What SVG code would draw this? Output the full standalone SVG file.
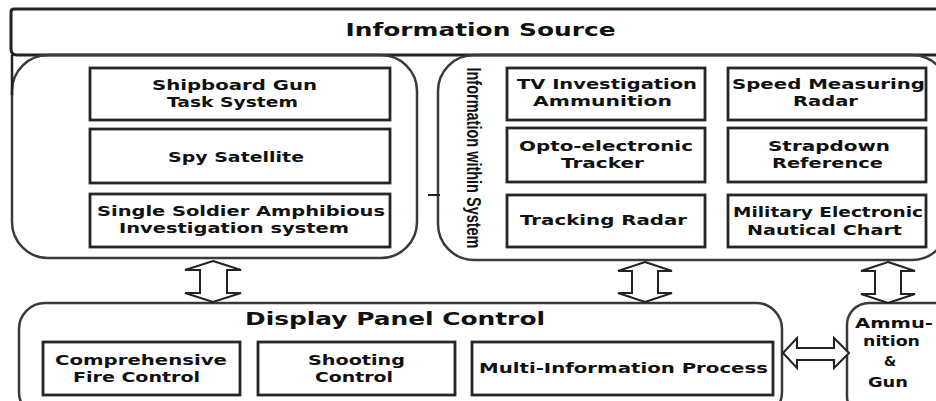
<svg xmlns="http://www.w3.org/2000/svg" width="936" height="401" viewBox="0 0 936 401">
<style>
.panel{fill:none;stroke:#3a3a3a;stroke-width:2.5}
.box{fill:#fff;stroke:#262626;stroke-width:2.8}
.t{font-family:"DejaVu Sans","Verdana",sans-serif;font-weight:bold;font-size:14px;fill:#111;text-anchor:middle}
.title{font-size:18px}
.sub{font-size:17px}
.vt{font-family:"Liberation Sans","Arial",sans-serif;font-weight:bold;font-size:20px;fill:#111;text-anchor:middle}
.arrow{fill:#fff;stroke:#222;stroke-width:2;stroke-linejoin:miter}
</style>
<rect width="936" height="401" fill="#fff"/>
<g id="information-source">
<path class="panel" d="M950 9 H14 Q11 9 11 12 V49 Q11 55 17 55 H950" style="stroke:#222;stroke-width:3"/>
<text class="t title" x="480.5" y="36" textLength="270" lengthAdjust="spacingAndGlyphs">Information Source</text>
</g>
<g id="external-panel">
<rect class="panel" x="12" y="55" width="405" height="203" rx="36" ry="36"/>
<line x1="12" y1="55" x2="12" y2="95" stroke="#222" stroke-width="2.5"/>
</g>
<g id="internal-panel">
<rect class="panel" x="438" y="55" width="510" height="205" rx="36" ry="36"/>
<text class="vt" transform="translate(467,158) rotate(90)" textLength="181" lengthAdjust="spacingAndGlyphs">Information within System</text>
</g>
<g id="shipboard-gun">
<rect class="box" x="90" y="68" width="300" height="52"/>
<text class="t" x="234.5" y="90" textLength="165" lengthAdjust="spacingAndGlyphs">Shipboard Gun</text>
<text class="t" x="232.5" y="107" textLength="131" lengthAdjust="spacingAndGlyphs">Task System</text>
</g>
<g id="spy-satellite">
<rect class="box" x="90" y="129" width="300" height="54"/>
<text class="t" x="236" y="162" textLength="136" lengthAdjust="spacingAndGlyphs">Spy Satellite</text>
</g>
<g id="single-soldier">
<rect class="box" x="90" y="194" width="300" height="53"/>
<text class="t" x="241" y="216" textLength="288" lengthAdjust="spacingAndGlyphs">Single Soldier Amphibious</text>
<text class="t" x="234" y="233" textLength="230" lengthAdjust="spacingAndGlyphs">Investigation system</text>
</g>
<g id="tv-investigation">
<rect class="box" x="507" y="68" width="198" height="52"/>
<text class="t" x="607" y="89" textLength="180" lengthAdjust="spacingAndGlyphs">TV Investigation</text>
<text class="t" x="602.5" y="106" textLength="139" lengthAdjust="spacingAndGlyphs">Ammunition</text>
</g>
<g id="speed-radar">
<rect class="box" x="728" y="68" width="198" height="52"/>
<text class="t" x="828.5" y="89" textLength="193" lengthAdjust="spacingAndGlyphs">Speed Measuring</text>
<text class="t" x="825.5" y="106" textLength="65" lengthAdjust="spacingAndGlyphs">Radar</text>
</g>
<g id="opto-tracker">
<rect class="box" x="507" y="128" width="198" height="54"/>
<text class="t" x="606" y="151" textLength="174" lengthAdjust="spacingAndGlyphs">Opto-electronic</text>
<text class="t" x="602.5" y="168" textLength="83" lengthAdjust="spacingAndGlyphs">Tracker</text>
</g>
<g id="strapdown">
<rect class="box" x="728" y="128" width="198" height="54"/>
<text class="t" x="829" y="151" textLength="122" lengthAdjust="spacingAndGlyphs">Strapdown</text>
<text class="t" x="827.5" y="168" textLength="111" lengthAdjust="spacingAndGlyphs">Reference</text>
</g>
<g id="tracking-radar">
<rect class="box" x="507" y="195" width="198" height="52"/>
<text class="t" x="603.5" y="225" textLength="167" lengthAdjust="spacingAndGlyphs">Tracking Radar</text>
</g>
<g id="nautical-chart">
<rect class="box" x="728" y="195" width="198" height="52"/>
<text class="t" x="828" y="217" textLength="190" lengthAdjust="spacingAndGlyphs">Military Electronic</text>
<text class="t" x="824.5" y="235" textLength="155" lengthAdjust="spacingAndGlyphs">Nautical Chart</text>
</g>
<g id="display-panel">
<rect class="panel" x="19" y="303" width="763" height="115" rx="26" ry="26"/>
<text class="t sub" x="395" y="325" textLength="300" lengthAdjust="spacingAndGlyphs">Display Panel Control</text>
</g>
<g id="fire-control">
<rect class="box" x="43" y="342" width="197" height="53"/>
<text class="t" x="141" y="365" textLength="172" lengthAdjust="spacingAndGlyphs">Comprehensive</text>
<text class="t" x="136.5" y="382" textLength="127" lengthAdjust="spacingAndGlyphs">Fire Control</text>
</g>
<g id="shooting-control">
<rect class="box" x="258" y="342" width="197" height="53"/>
<text class="t" x="356.5" y="365" textLength="97" lengthAdjust="spacingAndGlyphs">Shooting</text>
<text class="t" x="354" y="382" textLength="78" lengthAdjust="spacingAndGlyphs">Control</text>
</g>
<g id="multi-information">
<rect class="box" x="472" y="342" width="301" height="53"/>
<text class="t" x="623.5" y="373" textLength="289" lengthAdjust="spacingAndGlyphs">Multi-Information Process</text>
</g>
<g id="ammunition-gun">
<rect class="panel" x="847" y="303" width="110" height="115" rx="22" ry="22"/>
<text class="t" x="894" y="328" textLength="78" lengthAdjust="spacingAndGlyphs">Ammu-</text>
<text class="t" x="891.5" y="346" textLength="57" lengthAdjust="spacingAndGlyphs">nition</text>
<text class="t" x="890" y="366">&amp;</text>
<text class="t" x="888" y="387" textLength="40" lengthAdjust="spacingAndGlyphs">Gun</text>
</g>
<g id="connectors">
<line x1="428" y1="195" x2="440" y2="195" stroke="#222" stroke-width="2"/>
<polygon class="arrow" points="213,261 241,270 227,270 227,293 241,293 213,302 185,293 200,293 200,270 185,270"/>
<polygon class="arrow" points="645,262 672,271 658,271 658,293 672,293 645,302 618,293 632,293 632,271 618,271"/>
<polygon class="arrow" points="888,262 915,271 901,271 901,294 915,294 888,303 861,294 875,294 875,271 861,271"/>
<polygon class="arrow" points="783,353 797,338 797,348 834,348 834,338 849,353 834,368 834,360 797,360 797,368"/>
</g>
</svg>
